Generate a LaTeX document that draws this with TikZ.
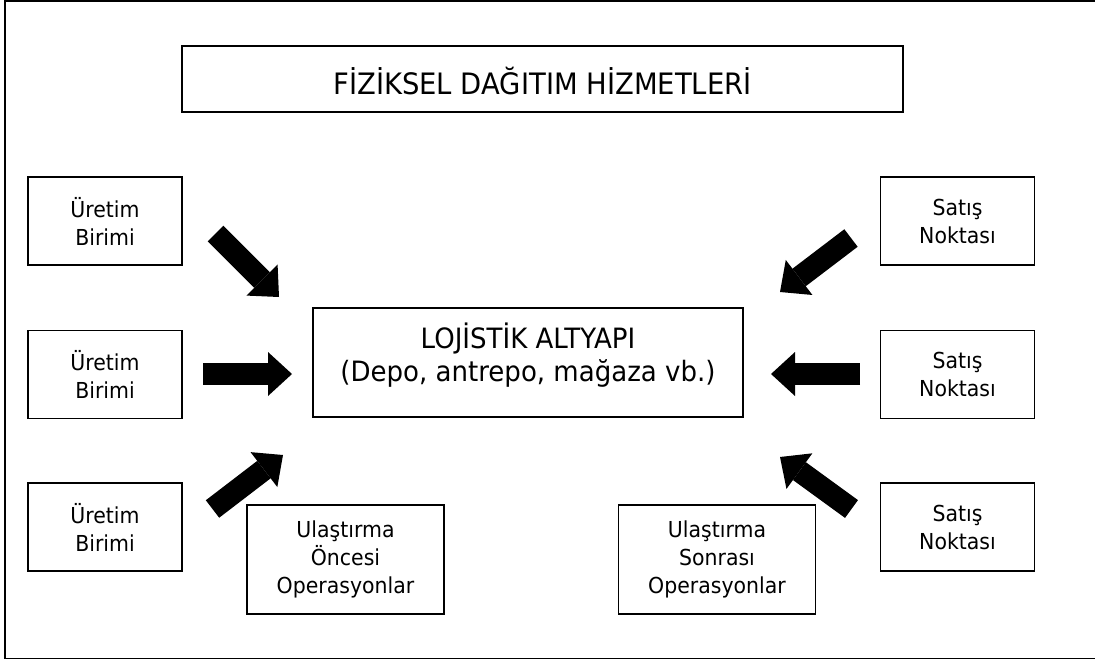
\documentclass[tikz,border=0pt]{standalone}
\usepackage{fontspec}
\setmainfont{DejaVu Sans}[FakeStretch=0.93]
\usetikzlibrary{arrows.meta}
\begin{document}
\begin{tikzpicture}[x=1pt,y=-1pt,
  frame/.style={draw, line width=1.8pt},
  box/.style={draw, line width=1.8pt, inner sep=0pt, align=center},
  unit/.style={box, minimum width=154pt, minimum height=88pt,
    font=\fontsize{22}{28}\selectfont},
  ops/.style={box, minimum width=197pt, minimum height=109pt,
    font=\fontsize{22}{28}\selectfont},
  bigtext/.style={align=center, inner sep=0pt, font=\fontsize{28}{33}\selectfont},
  fatarrow/.style={line width=22pt,
    -{Triangle[length=24pt,width=44pt,line width=0pt]}},
]
\useasboundingbox (0,0) rectangle (1095,661);
% outer frame
\draw[frame] (5.3,1.3) rectangle (1097,658.5);

% heading
\node[box, minimum width=721pt, minimum height=66pt,
  font=\fontsize{29.5}{35}\selectfont, text height=30pt, text depth=0pt]
  (title) at (542.5,79) {FİZİKSEL DAĞITIM HİZMETLERİ};

% central infrastructure
\node[box, minimum width=430pt, minimum height=109pt] (core) at (528,362.5) {};
\node[bigtext] (core-text) at (528,355)
  {LOJİSTİK ALTYAPI\\(Depo, antrepo, mağaza vb.)};

% production units
\node[unit] (p1) at (105,221)   {Üretim\\Birimi};
\node[unit] (p2) at (105,374.5) {Üretim\\Birimi};
\node[unit] (p3) at (105,527)   {Üretim\\Birimi};

% points of sale
\node[unit] (s1) at (957.5,221)   {Satış\\Noktası};
\node[unit] (s2) at (957.5,374.5) {Satış\\Noktası};
\node[unit] (s3) at (957.5,527)   {Satış\\Noktası};

% operations before / after transport
\node[ops] (pre)  at (345.5,559.5) {Ulaştırma\\Öncesi\\Operasyonlar};
\node[ops] (post) at (717,559.5)   {Ulaştırma\\Sonrası\\Operasyonlar};

% arrow ends
\coordinate (a1-tail) at (215.5,233.5); \coordinate (a1-tip) at (279,297);
\coordinate (a2-tail) at (203,374);     \coordinate (a2-tip) at (292,374);
\coordinate (a3-tail) at (212.5,509);   \coordinate (a3-tip) at (283,455);
\coordinate (b1-tail) at (851,238);     \coordinate (b1-tip) at (780,292);
\coordinate (b2-tail) at (860,374);     \coordinate (b2-tip) at (771,374);
\coordinate (b3-tail) at (851.5,509);   \coordinate (b3-tip) at (780,457);

\foreach \a in {a1,a2,a3,b1,b2,b3}
  \draw[fatarrow] (\a-tail) -- (\a-tip);
\end{tikzpicture}
\end{document}
